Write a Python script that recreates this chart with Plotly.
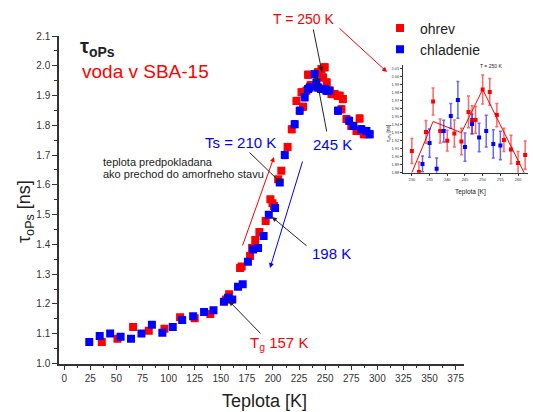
import plotly.graph_objects as go

W, H = 533, 412

# ---------------- data (main chart) ----------------
heat_T = [36, 51, 66, 81, 96, 111, 125, 140, 155, 158, 168.5, 170, 178, 180, 183, 187, 193,
          197.5, 199.5, 201, 205, 208, 214, 218, 222.5, 227.3, 228.8, 232, 233.6, 236, 240,
          243, 246.4, 248, 249.6, 251.5, 254.4, 256, 259, 262, 264, 265.6, 267, 270.4, 275,
          280, 283, 287]
heat_tau = [1.072, 1.083, 1.123, 1.110, 1.117, 1.155, 1.152, 1.166, 1.215, 1.233, 1.321, 1.326,
            1.361, 1.388, 1.415, 1.442, 1.479, 1.552, 1.538, 1.529, 1.619, 1.647, 1.727, 1.787,
            1.882, 1.911, 1.862, 1.916, 1.970, 1.935, 1.933, 1.978, 1.989, 1.961, 1.995, 1.944,
            1.916, 1.905, 1.905, 1.899, 1.899, 1.854, 1.888, 1.821, 1.798, 1.781, 1.823, 1.770]

cool_T = [24, 34, 44, 54, 64, 74, 84, 94, 104, 113, 123.5, 134, 143, 153, 157, 161, 166.5, 171,
          176, 181, 185.7, 191, 196, 202, 206.5, 211.3, 220.8, 225.6, 230.4, 233.6, 235.2, 240,
          241.6, 243.2, 246, 249.6, 251.2, 254, 262.3, 272.9, 277, 284.6, 289.5, 292.7]
cool_tau = [1.072, 1.092, 1.101, 1.090, 1.083, 1.101, 1.130, 1.103, 1.123, 1.146, 1.159, 1.173,
            1.179, 1.207, 1.221, 1.215, 1.258, 1.266, 1.342, 1.383, 1.388, 1.428, 1.500, 1.522,
            1.608, 1.700, 1.804, 1.849, 1.894, 1.922, 1.927, 1.972, 1.944, 1.927, 1.922, 1.922,
            1.916, 1.916, 1.849, 1.815, 1.798, 1.787, 1.781, 1.770]

# ---------------- data (inset, T = 250 K region) ----------------
in_heat_T = [230, 232, 234, 236, 238, 240, 242, 244, 246, 247, 248, 250, 252, 254, 256, 258, 260, 262]
in_heat_tau = [1.907, 1.881, 1.931, 1.969, 1.932, 1.920, 1.929, 1.919, 1.956, 1.946, 1.946, 1.984,
               1.981, 1.952, 1.921, 1.909, 1.892, 1.902]
in_heat_err = [0.0156, 0.0125, 0.0142, 0.017, 0.015, 0.013, 0.017, 0.0167, 0.0198, 0.0177, 0.0167,
               0.018, 0.0167, 0.0146, 0.0146, 0.0177, 0.0146, 0.0177]
in_cool_T = [233, 235, 237, 239, 241, 243, 245, 247, 249, 251, 253, 255]
in_cool_tau = [1.891, 1.917, 1.885, 1.932, 1.951, 1.971, 1.912, 1.941, 1.924, 1.932, 1.916, 1.914]
in_cool_err = [0.0098, 0.0177, 0.0135, 0.0135, 0.0156, 0.023, 0.0177, 0.012, 0.0177, 0.0198, 0.0177, 0.0177]
fit_T = [230, 236, 244, 250, 262.5]
fit_tau = [1.880, 1.944, 1.930, 1.984, 1.873]

RED = "#ff0000"
BLUE = "#0000ff"
FONT = "Arial, Liberation Sans, sans-serif"


def err_for(T):
    return [0.012 if t >= 210 else 0.005 for t in T]


def px(x):
    return x / W


def py(y):
    return 1 - y / H


fig = go.Figure()

fig.add_trace(go.Scatter(
    x=heat_T, y=heat_tau, mode="markers", name="ohrev",
    marker=dict(symbol="square", size=8, color=RED, line=dict(width=0)),
    error_y=dict(type="data", array=err_for(heat_T), color=RED, thickness=1, width=3),
    xaxis="x", yaxis="y"))
fig.add_trace(go.Scatter(
    x=cool_T, y=cool_tau, mode="markers", name="chladenie",
    marker=dict(symbol="square", size=8, color=BLUE, line=dict(width=0)),
    error_y=dict(type="data", array=err_for(cool_T), color=BLUE, thickness=1, width=3),
    xaxis="x", yaxis="y"))

# inset
fig.add_trace(go.Scatter(
    x=fit_T, y=fit_tau, mode="lines", line=dict(color=RED, width=1), showlegend=False,
    xaxis="x2", yaxis="y2"))
fig.add_trace(go.Scatter(
    x=in_heat_T, y=in_heat_tau, mode="markers", showlegend=False,
    marker=dict(symbol="square", size=4, color=RED),
    error_y=dict(type="data", array=in_heat_err, color="rgba(255,0,0,0.6)", thickness=1.5, width=1.5),
    xaxis="x2", yaxis="y2"))
fig.add_trace(go.Scatter(
    x=in_cool_T, y=in_cool_tau, mode="markers", showlegend=False,
    marker=dict(symbol="square", size=4, color=BLUE),
    error_y=dict(type="data", array=in_cool_err, color="rgba(0,0,255,0.6)", thickness=1.5, width=1.5),
    xaxis="x2", yaxis="y2"))

axis_common = dict(showgrid=False, zeroline=False, showline=True, linecolor="#333",
                   ticks="outside", tickcolor="#333", automargin=False)

fig.update_layout(
    width=W, height=H, margin=dict(l=0, r=0, t=0, b=0),
    paper_bgcolor="white", plot_bgcolor="white",
    font=dict(family=FONT, color="#222"),
    xaxis=dict(domain=[px(59), px(464)], range=[-5, 383], anchor="y",
               tick0=0, dtick=25, ticklen=5, linewidth=1.5, tickwidth=1.2,
               tickfont=dict(size=10, color="#333"),
               minor=dict(dtick=12.5, ticklen=3, ticks="outside", tickcolor="#333"),
               **axis_common),
    yaxis=dict(domain=[py(363.5), py(36)], range=[1.0, 2.1], anchor="x",
               tick0=1.0, dtick=0.1, tickformat=".1f", ticklen=5, linewidth=1.5, tickwidth=1.2,
               tickfont=dict(size=10, color="#333"),
               minor=dict(dtick=0.05, ticklen=3, ticks="outside", tickcolor="#333"),
               **axis_common),
    xaxis2=dict(domain=[px(403), px(528)], range=[227.5, 262.8], anchor="y2",
                tick0=230, dtick=5, ticklen=2, linewidth=1, tickwidth=0.8,
                tickfont=dict(size=4, color="#333"), **axis_common),
    yaxis2=dict(domain=[py(172.7), py(65)], range=[1.88, 2.0146], anchor="x2",
                tick0=1.88, dtick=0.01, tickformat=".2f", ticklen=2, linewidth=1, tickwidth=0.8,
                tickfont=dict(size=4, color="#333"), **axis_common),
    legend=dict(x=px(380), y=py(12.5), xanchor="left", yanchor="top",
                font=dict(size=14, color="#222"), bgcolor="rgba(0,0,0,0)",
                itemclick=False),
)

ann = []


def text(x, y, s, size, color="#222", xanchor="center", yanchor="middle", angle=0):
    ann.append(dict(x=px(x), y=py(y), xref="paper", yref="paper", text=s, showarrow=False,
                    font=dict(size=size, color=color, family=FONT),
                    xanchor=xanchor, yanchor=yanchor, textangle=angle))


def arrow(tx, ty, hx, hy, color="#222", width=1):
    ann.append(dict(x=px(hx), y=py(hy), xref="paper", yref="paper", ax=tx - hx, ay=ty - hy,
                    text="", showarrow=True, arrowhead=2, arrowsize=1, arrowwidth=width,
                    arrowcolor=color))


# axis titles
text(264, 401, "Teplota [K]", 18)
text(25, 212, "τ<sub>oPs</sub> [ns]", 18, angle=-90)

# labels
text(78, 47, "<b>τ<sub>oPs</sub></b>", 20, xanchor="left")
text(80, 71, "voda v SBA-15", 19, color=RED, xanchor="left")
text(304, 19, "T = 250 K", 14, color=RED)
text(240, 143, "Ts = 210 K", 15, color=BLUE)
text(332, 144, "245 K", 15, color=BLUE)
text(331, 254, "198 K", 15, color=BLUE)
text(279, 343, "T<sub>g</sub> 157 K", 15, color=RED)
text(101, 162, "teplota predpokladana", 11, xanchor="left")
text(101, 174, "ako prechod do amorfneho stavu", 11, xanchor="left")

# arrows
arrow(313, 28, 322, 72)
arrow(327, 133, 316, 75)
arrow(248, 151, 281, 183)
arrow(308, 247, 272, 217)
arrow(262, 335, 229, 301)
arrow(338, 27, 387, 72, color=RED)
arrow(242, 247, 274, 157, color=RED)
arrow(303, 160, 270, 268, color=BLUE)

# inset texts
text(491, 66, "T = 250 K", 5)
text(470, 192, "Teplota [K]", 6.5)
text(388, 133, "τ<sub>oPs</sub> [ns]", 5, angle=-90)

fig.update_layout(annotations=ann)

fig.write_html("out.html")
